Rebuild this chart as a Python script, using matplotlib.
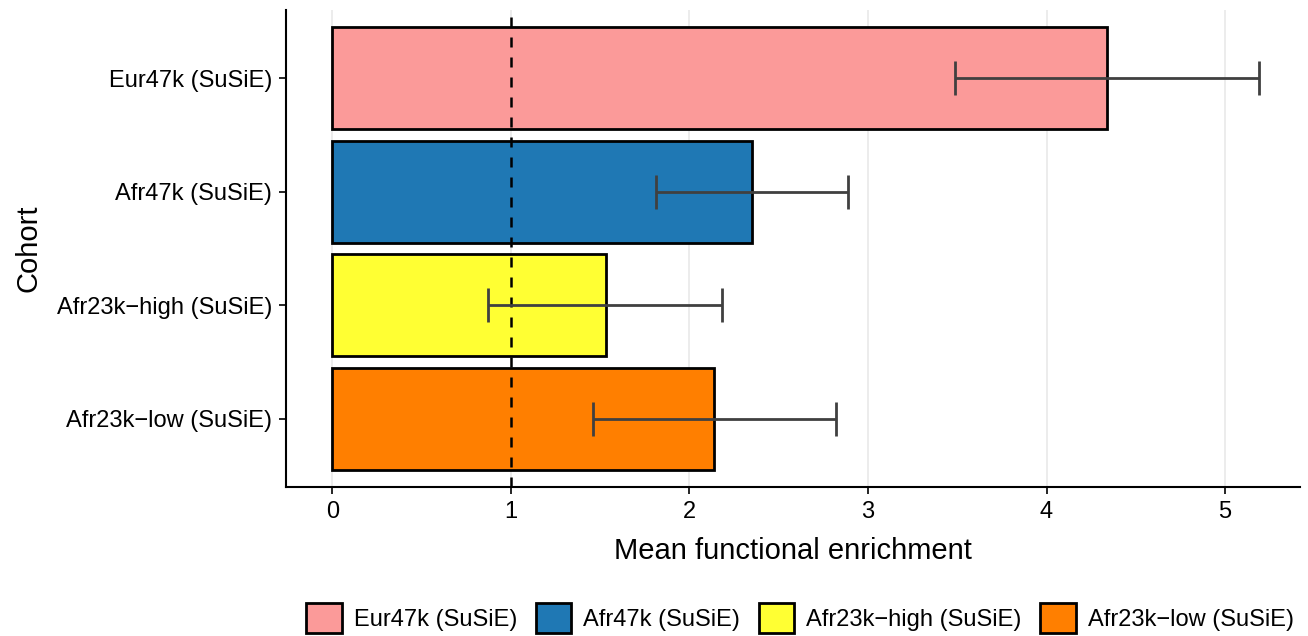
import numpy as np
import matplotlib.pyplot as plt
from matplotlib.patches import Patch

plt.rcParams['font.family'] = ['Liberation Sans', 'DejaVu Sans']

cohorts = ["Eur47k (SuSiE)", "Afr47k (SuSiE)", "Afr23k\u2212high (SuSiE)", "Afr23k\u2212low (SuSiE)"]
means = [4.34, 2.35, 1.53, 2.14]
lower = [3.49, 1.81, 0.87, 1.46]
upper = [5.19, 2.89, 2.18, 2.82]
colors = ["#FB9A99", "#1F78B4", "#FFFF33", "#FF7F00"]

fig = plt.figure(figsize=(13.08, 6.36), dpi=100)
ax = fig.add_axes([286/1308, 1 - 487/636, (1300-286)/1308, (487-10)/636])

ypos = np.arange(len(cohorts), 0, -1)
means = np.array(means)
lo = means - np.array(lower)
hi = np.array(upper) - means

ax.set_axisbelow(True)
ax.grid(axis='x', color='#EBEBEB', linewidth=1.3)
ax.barh(ypos, means, height=0.9, color=colors, edgecolor='black', linewidth=2, zorder=2)
ax.axvline(1, color='black', linestyle=(0, (4, 4)), linewidth=1.8, zorder=3)
ax.errorbar(means, ypos, xerr=[lo, hi], fmt='none', ecolor='#404040',
            elinewidth=2, capsize=12, capthick=2, zorder=4)

ax.set_xlim(-0.26, 5.42)
ax.set_ylim(0.4, 4.6)
ax.set_yticks(ypos)
ax.set_yticklabels(cohorts)
ax.set_xticks([0, 1, 2, 3, 4, 5])
ax.tick_params(axis='both', labelsize=17, length=5, width=1.2, colors='black', pad=5)
for s in ['top', 'right']:
    ax.spines[s].set_visible(False)
for s in ['left', 'bottom']:
    ax.spines[s].set_linewidth(1.5)

ax.set_xlabel("Mean functional enrichment", fontsize=21, labelpad=10)
ax.set_ylabel("Cohort", fontsize=21, labelpad=10)

handles = [Patch(facecolor=c, edgecolor='black', linewidth=2) for c in colors]
fig.legend(handles, cohorts, loc='center', bbox_to_anchor=(800/1308, 1 - 618/636), ncol=4,
           frameon=False, fontsize=17, handlelength=1.5, handleheight=1.6,
           handletextpad=0.5, columnspacing=0.8)

fig.savefig("out.png", dpi=100)
